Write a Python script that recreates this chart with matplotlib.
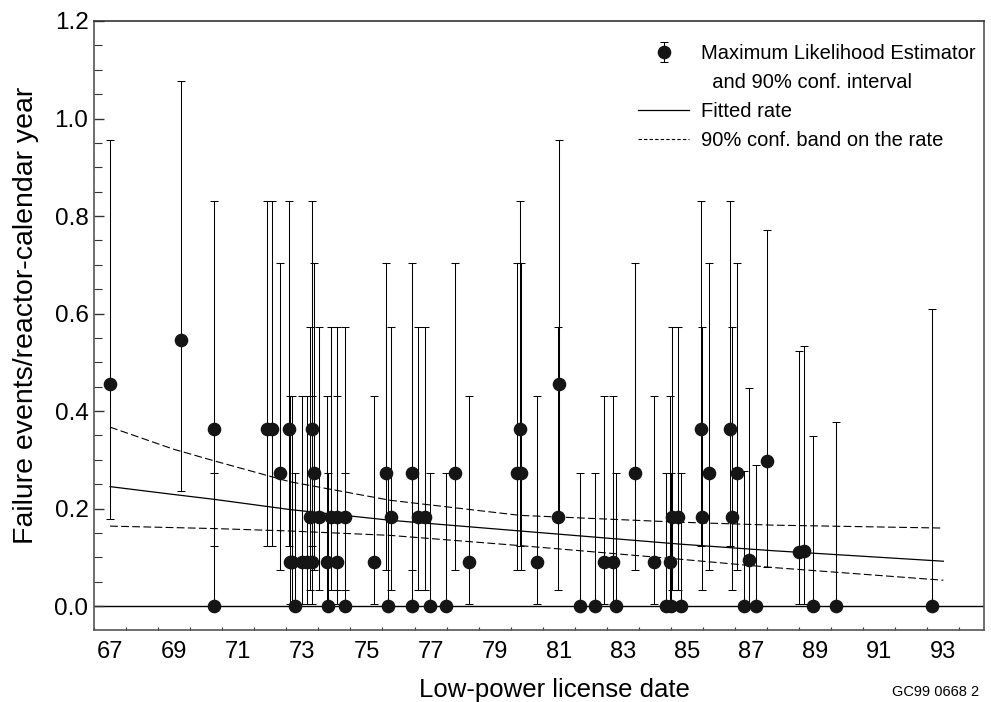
import matplotlib
matplotlib.use('Agg')
import numpy as np
import matplotlib.pyplot as plt
from matplotlib.lines import Line2D
from matplotlib.ticker import MultipleLocator, FixedLocator, NullFormatter, FixedFormatter

plt.rcParams['font.family'] = ['Liberation Sans', 'DejaVu Sans']

# ---- data ----
license_date = [67.50, 69.71, 70.74, 70.75, 72.39, 72.56, 72.80, 73.08, 73.10, 73.19,
                73.28, 73.50, 73.65, 73.74, 73.80, 73.80, 73.87, 74.01, 74.27, 74.30,
                74.39, 74.57, 74.59, 74.83, 74.83, 75.75, 76.10, 76.16, 76.25, 76.93,
                76.93, 77.10, 77.33, 77.49, 77.99, 78.27, 78.69, 80.19, 80.30, 80.32,
                80.83, 81.48, 81.51, 82.17, 82.63, 82.90, 83.20, 83.29, 83.88, 84.47,
                84.86, 84.97, 85.00, 85.02, 85.23, 85.31, 85.93, 85.97, 86.18, 86.84,
                86.90, 87.07, 87.27, 87.45, 87.66, 88.01, 89.01, 89.16, 89.43, 90.15,
                93.15]
mle = [0.455, 0.545, 0.364, 0.000, 0.364, 0.364, 0.273, 0.364, 0.091, 0.091,
       0.000, 0.091, 0.091, 0.182, 0.091, 0.364, 0.273, 0.182, 0.091, 0.000,
       0.182, 0.182, 0.091, 0.182, 0.000, 0.091, 0.273, 0.000, 0.182, 0.273,
       0.000, 0.182, 0.182, 0.000, 0.000, 0.273, 0.091, 0.273, 0.364, 0.273,
       0.091, 0.182, 0.455, 0.000, 0.000, 0.091, 0.091, 0.000, 0.273, 0.091,
       0.000, 0.091, 0.000, 0.182, 0.182, 0.000, 0.364, 0.182, 0.273, 0.364,
       0.182, 0.273, 0.000, 0.094, 0.000, 0.298, 0.110, 0.113, 0.000, 0.000,
       0.000]
ci_low = [0.178, 0.237, 0.124, 0.000, 0.124, 0.124, 0.075, 0.124, 0.005, 0.005,
          0.000, 0.005, 0.005, 0.033, 0.005, 0.124, 0.075, 0.033, 0.005, 0.000,
          0.033, 0.033, 0.005, 0.033, 0.000, 0.005, 0.075, 0.000, 0.033, 0.075,
          0.000, 0.033, 0.033, 0.000, 0.000, 0.075, 0.005, 0.075, 0.124, 0.075,
          0.005, 0.033, 0.178, 0.000, 0.000, 0.005, 0.005, 0.000, 0.075, 0.005,
          0.000, 0.005, 0.000, 0.033, 0.033, 0.000, 0.124, 0.033, 0.075, 0.124,
          0.033, 0.075, 0.000, 0.005, 0.000, 0.081, 0.005, 0.005, 0.000, 0.000,
          0.000]
ci_high = [0.955, 1.076, 0.831, 0.272, 0.831, 0.831, 0.704, 0.831, 0.431, 0.431,
           0.272, 0.431, 0.431, 0.573, 0.431, 0.831, 0.704, 0.573, 0.431, 0.272,
           0.573, 0.573, 0.431, 0.573, 0.272, 0.431, 0.704, 0.272, 0.573, 0.704,
           0.272, 0.573, 0.573, 0.272, 0.272, 0.704, 0.431, 0.704, 0.831, 0.704,
           0.431, 0.573, 0.955, 0.272, 0.272, 0.431, 0.431, 0.272, 0.704, 0.431,
           0.272, 0.431, 0.272, 0.573, 0.573, 0.272, 0.831, 0.573, 0.704, 0.831,
           0.573, 0.704, 0.278, 0.447, 0.289, 0.772, 0.524, 0.533, 0.349, 0.378,
           0.609]

curve_x = [67.5, 69.47, 70.74, 73.11, 76.24, 80.3, 85.3, 88.2, 93.5]
fitted_rate = [0.245, 0.229, 0.219, 0.198, 0.176, 0.154, 0.127, 0.1135, 0.092]
band_upper = [0.367, 0.322, 0.298, 0.255, 0.217, 0.186, 0.172, 0.166, 0.160]
band_lower = [0.164, 0.161, 0.159, 0.154, 0.145, 0.124, 0.096, 0.079, 0.053]

year_labels = ['67', '69', '71', '73', '75', '77', '79', '81', '83', '85', '87', '89', '91', '93']
y_tick_values = [0.0, 0.2, 0.4, 0.6, 0.8, 1.0, 1.2]

# ---- figure ----
fig = plt.figure(figsize=(9.91, 7.02), dpi=100)
ax = fig.add_axes([0.0949, 0.1026, 0.8981, 0.8675])

x = np.array(license_date)
y = np.array(mle)
lo = np.array(ci_low)
hi = np.array(ci_high)

ax.axhline(0.0, color='black', lw=1.0, zorder=1)

ax.plot(curve_x, fitted_rate, color='black', lw=0.9, zorder=2)
ax.plot(curve_x, band_upper, color='black', lw=0.8, dashes=(7, 3), zorder=2)
ax.plot(curve_x, band_lower, color='black', lw=0.8, dashes=(7, 3), zorder=2)

eb = ax.errorbar(x, y, yerr=[y - lo, hi - y], fmt='o', color='#151515', ms=8.8,
                 ecolor='black', elinewidth=0.75, capsize=3, capthick=0.75, zorder=3)

ax.set_xlim(67.0, 94.77)
ax.set_ylim(-0.049, 1.2)

# x ticks: marks at every year, labels centred between marks
ax.xaxis.set_major_locator(MultipleLocator(1))
ax.xaxis.set_major_formatter(NullFormatter())
label_pos = [int(s) + 0.5 for s in year_labels]
ax.xaxis.set_minor_locator(FixedLocator(label_pos))
ax.xaxis.set_minor_formatter(FixedFormatter(year_labels))
ax.tick_params(axis='x', which='major', direction='in', length=2.2, width=0.8, color='#333333')
ax.tick_params(axis='x', which='minor', length=0, pad=8, labelsize=17)

ax.set_yticks(y_tick_values)
ax.set_yticklabels([f'{v:.1f}' for v in y_tick_values])
ax.yaxis.set_minor_locator(MultipleLocator(0.05))
ax.tick_params(axis='y', which='major', direction='in', length=7.2, width=1.0,
               labelsize=17.5, pad=4, color='#333333')
ax.tick_params(axis='y', which='minor', direction='in', length=5.5, width=0.8, color='#333333')

for side in ['left', 'bottom', 'right', 'top']:
    ax.spines[side].set_color('#555555')
    ax.spines[side].set_linewidth(1.2)
ax.spines['top'].set_color('#333333')

ax.set_xlabel('Low-power license date', fontsize=18.5)
ax.xaxis.set_label_coords(0.517, -0.079)
ax.set_ylabel('Failure events/reactor-calendar year', fontsize=20.5)
ax.yaxis.set_label_coords(-0.062, 0.517)

blank = Line2D([], [], color='none')
solid = Line2D([], [], color='black', lw=0.9)
dashed = Line2D([], [], color='black', lw=0.8, dashes=(3, 2))
leg = ax.legend([eb, blank, solid, dashed],
                ['Maximum Likelihood Estimator', '  and 90% conf. interval',
                 'Fitted rate', '90% conf. band on the rate'],
                loc='upper left', bbox_to_anchor=(0.611, 0.962), frameon=False,
                fontsize=14.5, handlelength=2.55, handletextpad=0.6,
                labelspacing=0.5, borderpad=0, borderaxespad=0)

fig.text(0.988, 0.014, 'GC99 0668 2', ha='right', va='center', fontsize=10.5)

fig.savefig('out.png', dpi=100)
